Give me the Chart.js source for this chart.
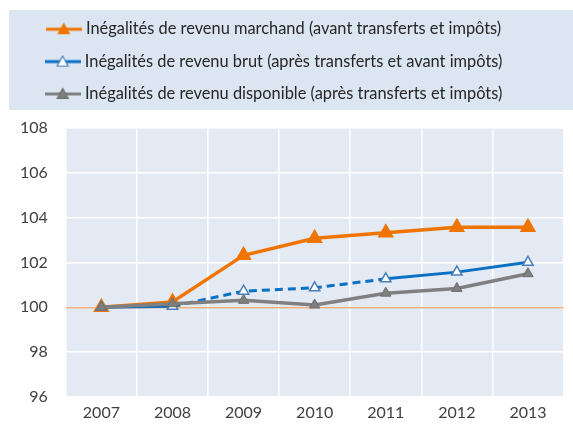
<!DOCTYPE html>
<html>
<head>
<meta charset="utf-8">
<script src="https://cdn.jsdelivr.net/npm/chart.js@4.4.1/dist/chart.umd.min.js"></script>
<style>
html, body { margin: 0; padding: 0; background: #fff; }
#cadre { width: 573px; height: 430px; }
</style>
</head>
<body>
<div id="cadre"><canvas id="inegalitesChart"></canvas></div>
<script>
// --- Données (indices base 100 en 2007) ---
const annees = ['2007', '2008', '2009', '2010', '2011', '2012', '2013'];
const revenuMarchand = [100, 100.24, 102.32, 103.08, 103.33, 103.58, 103.58];
const revenuBrut = [100, 100.04, 100.72, 100.87, 101.27, 101.57, 102.01];
const revenuDisponible = [100, 100.16, 100.31, 100.10, 100.63, 100.84, 101.50];
const libelles = [
    'Inégalités de revenu marchand (avant transferts et impôts)',
    'Inégalités de revenu brut (après transferts et avant impôts)',
    'Inégalités de revenu disponible (après transferts et impôts)'
];
const bornesY = [96, 108];

const police = 'Lato, "Liberation Sans", sans-serif';

// petit dessin de légende : trait + triangle
function pictoLegende(couleurTrait, fond, bord) {
    const c = document.createElement('canvas');
    c.width = 36; c.height = 14;
    const g = c.getContext('2d');
    g.strokeStyle = couleurTrait;
    g.lineWidth = 3;
    g.beginPath(); g.moveTo(0, 7); g.lineTo(36, 7); g.stroke();
    g.beginPath();
    g.moveTo(18, 1.5); g.lineTo(23.5, 11.5); g.lineTo(12.5, 11.5); g.closePath();
    g.fillStyle = fond; g.fill();
    g.lineWidth = 1.2; g.strokeStyle = bord; g.stroke();
    return c;
}

const fonds = {
    id: 'fonds',
    afterInit(chart) {
        // un peu d'air entre la légende et le graphique
        const leg = chart.legend;
        const fitOrig = leg.fit;
        leg.fit = function () { fitOrig.call(this); this.height += 16; };
        // légende légèrement décalée vers la gauche
        const drawOrig = leg.draw;
        leg.draw = function () {
            this.ctx.save();
            this.ctx.translate(-12, 0);
            drawOrig.call(this);
            this.ctx.restore();
        };
    },
    beforeDraw(chart) {
        const { ctx, chartArea: a } = chart;
        ctx.save();
        ctx.fillStyle = '#dce6f2';
        ctx.fillRect(9, 10, chart.width - 9, 100);
        ctx.fillStyle = '#e4eaf4';
        ctx.fillRect(a.left, a.top, a.right - a.left, a.bottom - a.top);
        ctx.restore();
    }
};

const pointilles = [1, 2, 3]; // segments 2008-2011 en tirets pour le revenu brut

new Chart(document.getElementById('inegalitesChart').getContext('2d'), {
    type: 'line',
    data: {
        labels: annees,
        datasets: [
            {
                label: libelles[0],
                data: revenuMarchand,
                borderColor: '#f07400',
                backgroundColor: '#f07400',
                borderWidth: 3.5,
                pointStyle: 'triangle',
                pointRadius: 6,
                pointBackgroundColor: '#f07400',
                pointBorderColor: '#f07400',
                order: 2,
                legendImg: pictoLegende('#f07400', '#f07400', '#f07400')
            },
            {
                label: libelles[1],
                data: revenuBrut,
                borderColor: '#0a70c4',
                backgroundColor: '#ffffff',
                borderWidth: 3,
                pointStyle: 'triangle',
                pointRadius: 6,
                pointBackgroundColor: '#ffffff',
                pointBorderColor: '#4a7ebb',
                pointBorderWidth: 1.5,
                segment: {
                    borderDash: ctx => pointilles.includes(ctx.p0DataIndex) ? [8, 5] : undefined
                },
                order: 1,
                legendImg: pictoLegende('#0a70c4', '#ffffff', '#4a7ebb')
            },
            {
                label: libelles[2],
                data: revenuDisponible,
                borderColor: '#808080',
                backgroundColor: '#808080',
                borderWidth: 3.5,
                pointStyle: 'triangle',
                pointRadius: 6,
                pointBackgroundColor: '#7f7f7f',
                pointBorderColor: '#6e6e6e',
                pointBorderWidth: 1,
                order: 0,
                legendImg: pictoLegende('#808080', '#7f7f7f', '#6e6e6e')
            }
        ]
    },
    options: {
        responsive: true,
        maintainAspectRatio: false,
        animation: false,
        layout: { padding: { top: 5, left: 2, right: 0, bottom: 2 } },
        plugins: {
            tooltip: { enabled: false },
            legend: {
                position: 'top',
                labels: {
                    usePointStyle: true,
                    pointStyleWidth: 28,
                    padding: 16,
                    color: '#262626',
                    font: { family: police, size: 16.4 },
                    generateLabels: chart => chart.data.datasets.map((ds, i) => ({
                        text: ds.label,
                        pointStyle: ds.legendImg,
                        fontColor: '#262626',
                        datasetIndex: i,
                        hidden: false
                    }))
                }
            }
        },
        scales: {
            x: {
                offset: true,
                grid: { offset: true, color: '#ffffff', lineWidth: 1.5, drawTicks: false },
                border: { display: false },
                ticks: { color: '#404040', font: { family: police, size: 16 }, padding: 6 }
            },
            y: {
                min: bornesY[0],
                max: bornesY[1],
                grid: {
                    color: c => c.tick && c.tick.value === 100 ? '#f4b183' : '#ffffff',
                    lineWidth: 1.5,
                    drawTicks: false
                },
                border: { display: false },
                ticks: { stepSize: 2, color: '#404040', font: { family: police, size: 16 }, padding: 18 }
            }
        }
    },
    plugins: [fonds]
});
</script>
</body>
</html>
